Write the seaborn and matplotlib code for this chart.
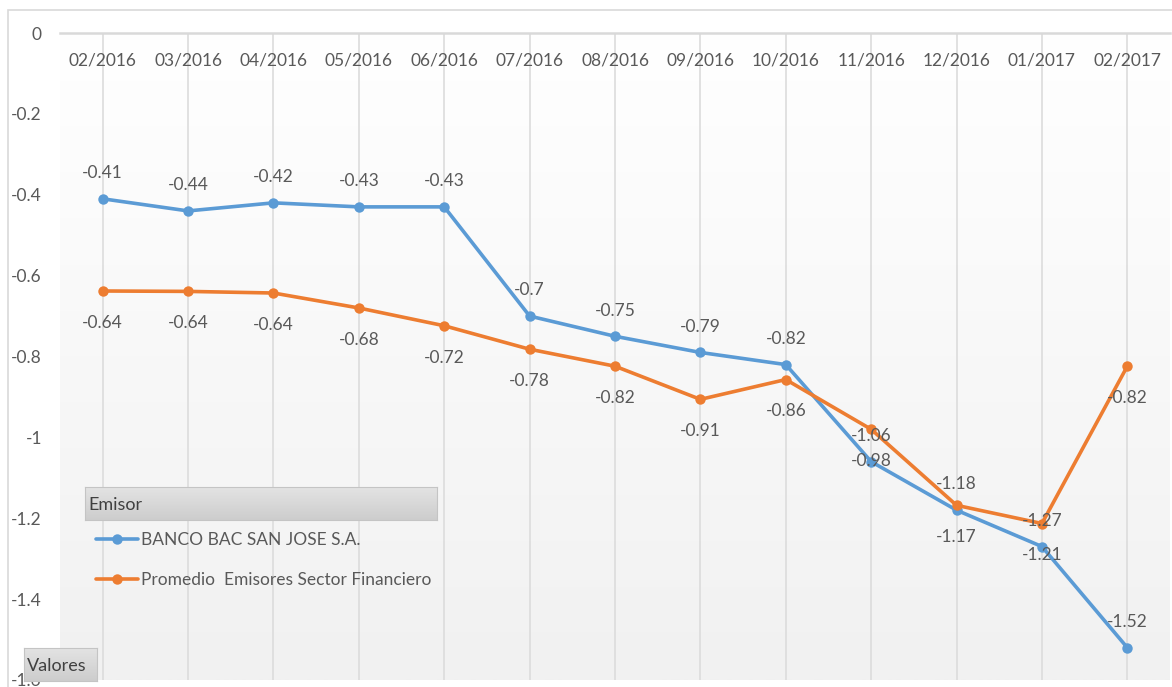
import numpy as np
import pandas as pd
import matplotlib
matplotlib.use("Agg")
import matplotlib.pyplot as plt
import matplotlib.patches as mpatches
from matplotlib.colors import LinearSegmentedColormap
import seaborn as sns

months = ["02/2016", "03/2016", "04/2016", "05/2016", "06/2016", "07/2016", "08/2016",
          "09/2016", "10/2016", "11/2016", "12/2016", "01/2017", "02/2017"]
bac = [-0.41, -0.44, -0.42, -0.43, -0.43, -0.70, -0.75, -0.79, -0.82, -1.06, -1.18, -1.27, -1.52]
promedio = [-0.638, -0.639, -0.643, -0.68, -0.724, -0.782, -0.824, -0.906, -0.857, -0.98, -1.168, -1.213, -0.824]
series_names = ["BANCO BAC SAN JOSE S.A.", "Promedio  Emisores Sector Financiero"]
colors = ["#5B9BD5", "#ED7D31"]
yticks = [0, -0.2, -0.4, -0.6, -0.8, -1, -1.2, -1.4, -1.6]

df = pd.DataFrame({
    "Mes": months * 2,
    "Valor": bac + promedio,
    "Emisor": [series_names[0]] * len(months) + [series_names[1]] * len(months),
})

sns.set_theme(style="white")
plt.rcParams["font.family"] = ["Lato", "DejaVu Sans"]
txt_color = "#595959"
fs = 12.5

W, H = 1172, 687
fig = plt.figure(figsize=(W / 100, H / 100), dpi=100)
fig.patch.set_facecolor("white")

# chart frame
fig.patches.append(mpatches.Rectangle((8 / W, -0.1), 1.2, 1 - 10 / H + 0.1, transform=fig.transFigure,
                                      fill=False, edgecolor="#d9d9d9", linewidth=1.2, zorder=0))

ax = fig.add_axes([60 / W, 1 - 680 / H, (1170 - 60) / W, (680 - 33) / H])
ax.set_xlim(-0.5, len(months) - 0.5)
ax.set_ylim(-1.6, 0)

# gradient background
grad = np.linspace(0, 1, 256).reshape(-1, 1)
cmap = LinearSegmentedColormap.from_list("bg", ["#ffffff", "#f1f1f1"])
ax.imshow(grad, extent=[0, 1, 0, 1], transform=ax.transAxes, cmap=cmap, aspect="auto", zorder=0)

# vertical gridlines
for i in range(len(months)):
    ax.axvline(i, color="#dcdcdc", linewidth=1.2, zorder=1)

sns.lineplot(data=df, x="Mes", y="Valor", hue="Emisor", palette=colors, marker="o",
             markersize=7.5, markeredgewidth=0, linewidth=2.6, sort=False, ax=ax, zorder=3)

ax.set_xlim(-0.5, len(months) - 0.5)
ax.set_ylim(-1.6, 0)

for s in ["left", "right", "bottom"]:
    ax.spines[s].set_visible(False)
ax.spines["top"].set_color("#d9d9d9")
ax.spines["top"].set_linewidth(1.8)

ax.set_xticks([])
ax.set_xlabel("")
ax.set_ylabel("")
ax.set_yticks(yticks)
ax.set_yticklabels([f"{v:g}" for v in yticks])
ax.tick_params(axis="y", length=0, pad=13, labelsize=fs, labelcolor=txt_color)
for lbl in ax.get_yticklabels():
    if lbl.get_text() == "-1.6":
        lbl.set_y(-1.61)

# category labels inside plot
for i, m in enumerate(months):
    ax.text(i, -0.068, m, ha="center", va="center", fontsize=fs, color=txt_color, zorder=4)

# data labels
for i, v in enumerate(bac):
    ax.annotate(f"{round(v, 2):g}", (i, v), xytext=(0, 18.5), textcoords="offset points",
                ha="center", va="center", fontsize=fs, color=txt_color, zorder=5)
for i, v in enumerate(promedio):
    ax.annotate(f"{round(v, 2):g}", (i, v), xytext=(0, -23), textcoords="offset points",
                ha="center", va="center", fontsize=fs, color=txt_color, zorder=5)

# legend
leg = ax.legend(loc="upper left", bbox_to_anchor=(96 / W, 1 - 532 / H), bbox_transform=fig.transFigure,
                frameon=False, fontsize=fs, handlelength=2.4, handletextpad=0.2, labelspacing=1.4,
                borderaxespad=0, borderpad=0)
for t in leg.get_texts():
    t.set_color(txt_color)

# pivot field buttons
def button(x0, y0, x1, y1, label):
    g = np.linspace(0, 1, 64).reshape(-1, 1)
    bcm = LinearSegmentedColormap.from_list("btn", ["#cdcdcd", "#e3e3e3"])
    bax = fig.add_axes([x0 / W, 1 - y1 / H, (x1 - x0) / W, (y1 - y0) / H], zorder=10)
    bax.imshow(g, extent=[0, 1, 0, 1], cmap=bcm, aspect="auto", origin="lower")
    bax.set_xlim(0, 1)
    bax.set_ylim(0, 1)
    bax.set_xticks([])
    bax.set_yticks([])
    for s in bax.spines.values():
        s.set_color("#c4c4c4")
        s.set_linewidth(0.8)
    bax.text(3 / (x1 - x0), 0.45, label, ha="left", va="center", fontsize=fs + 0.5, color="#404040")

button(85, 487, 437, 520, "Emisor")
button(24, 648, 97, 681, "Valores")

fig.savefig("out.png", dpi=100)
